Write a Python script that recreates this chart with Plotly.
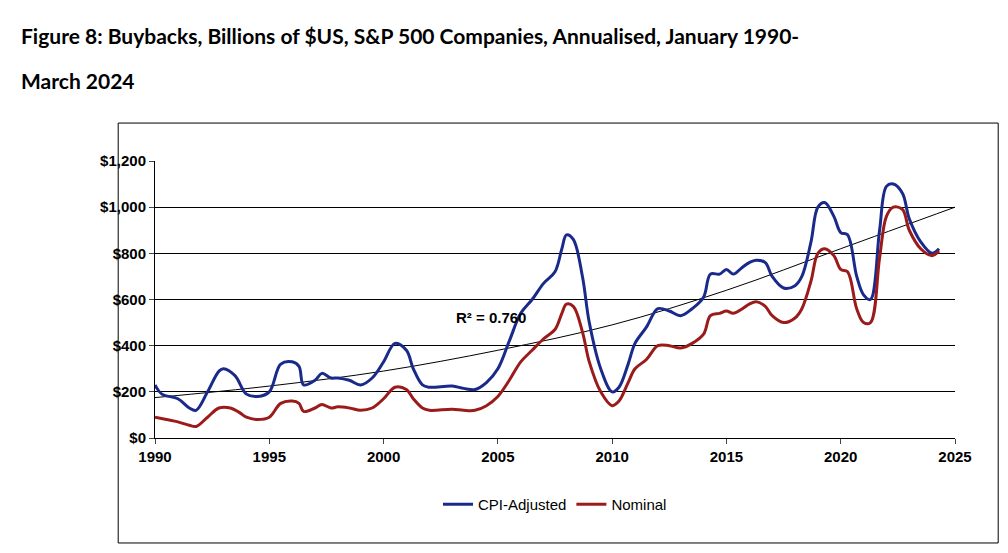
import plotly.graph_objects as go

years_cpi = [1990,1990.3,1991,1991.5,1991.8,1992.3,1992.8,1993,1993.5,1994,1994.5,1995,1995.5,1996,1996.3,1996.5,1997,1997.3,1997.7,1998,1998.5,1999,1999.5,2000,2000.5,2001,2001.3,2001.7,2002,2003,2003.5,2004,2004.5,2005,2005.5,2006,2006.5,2007,2007.5,2007.8,2008,2008.3,2008.7,2009,2009.5,2010,2010.3,2010.7,2011,2011.5,2012,2012.5,2013,2013.5,2014,2014.3,2014.7,2015,2015.3,2015.7,2016,2016.3,2016.7,2017,2017.5,2018,2018.3,2018.7,2019,2019.3,2019.7,2020,2020.3,2020.7,2021,2021.3,2021.7,2022,2022.3,2022.7,2023,2023.5,2024,2024.3]
cpi_adjusted = [230,190,170,130,120,200,290,300,270,190,180,200,320,330,310,230,250,280,260,260,250,230,260,330,410,380,300,230,220,225,215,210,240,300,420,540,600,670,720,820,880,860,700,500,300,200,220,320,410,480,560,550,530,560,610,710,710,730,710,740,760,770,760,700,650,660,700,850,1000,1020,960,890,880,700,620,600,900,1090,1100,1060,950,850,800,820]
years_nom = [1990,1990.5,1991,1991.5,1991.8,1992.3,1992.8,1993.3,1993.7,1994,1994.5,1995,1995.5,1996,1996.3,1996.5,1997,1997.3,1997.7,1998,1998.5,1999,1999.5,2000,2000.5,2001,2001.3,2001.7,2002,2003,2003.5,2004,2004.5,2005,2005.5,2006,2006.5,2007,2007.5,2007.8,2008,2008.3,2008.7,2009,2009.5,2010,2010.3,2010.7,2011,2011.5,2012,2012.5,2013,2013.5,2014,2014.3,2014.7,2015,2015.3,2015.7,2016,2016.3,2016.7,2017,2017.5,2018,2018.3,2018.7,2019,2019.3,2019.7,2020,2020.3,2020.7,2021,2021.3,2021.7,2022,2022.3,2022.7,2023,2023.5,2024,2024.3]
nominal = [90,80,70,55,50,90,130,130,110,90,80,90,150,160,150,115,130,145,130,135,130,120,130,170,220,210,170,130,120,125,120,120,140,180,250,330,380,430,470,540,580,570,460,330,200,140,160,240,300,340,400,400,390,410,450,530,540,550,540,560,580,590,570,530,500,520,560,680,800,820,790,730,720,560,500,500,780,960,1000,990,900,820,790,810]
trend_years = [1990,1995,2000,2005,2010,2015,2020,2025]
trend_values = [175,225,290,380,490,640,820,1000]
x_ticks = [1990,1995,2000,2005,2010,2015,2020,2025]
y_ticks = [0,200,400,600,800,1000,1200]
y_labels = ["$0","$200","$400","$600","$800","$1,000","$1,200"]

fig = go.Figure()
fig.add_trace(go.Scatter(x=trend_years, y=trend_values, mode="lines", line=dict(color="black", width=1, shape="spline"), showlegend=False))
fig.add_trace(go.Scatter(x=years_cpi, y=cpi_adjusted, mode="lines", name="CPI-Adjusted", line=dict(color="#1a2a8a", width=3, shape="spline")))
fig.add_trace(go.Scatter(x=years_nom, y=nominal, mode="lines", name="Nominal", line=dict(color="#9b1b1b", width=3, shape="spline")))

fig.add_annotation(x=2004.7, y=520, text="<b>R² = 0.760</b>", showarrow=False, font=dict(size=15, color="black"))
fig.add_annotation(xref="paper", yref="paper", x=-0.17, y=(430-27)/277, xanchor="left", yanchor="middle", showarrow=False,
                   text="<b>Figure 8: Buybacks, Billions of $US, S&P 500 Companies, Annualised, January 1990-</b>",
                   font=dict(size=21, family="Lato, Liberation Sans"))
fig.add_annotation(xref="paper", yref="paper", x=-0.17, y=(430-72)/277, xanchor="left", yanchor="middle", showarrow=False,
                   text="<b>March 2024</b>", font=dict(size=21, family="Lato, Liberation Sans"))

fig.update_layout(
    width=1008, height=553, paper_bgcolor="white", plot_bgcolor="white",
    margin=dict(l=147, r=61, t=153, b=123, autoexpand=False),
    font=dict(family="Liberation Sans", color="black"),
    xaxis=dict(range=[1990, 2025], tickvals=x_ticks, ticktext=["<b>%d</b>" % v for v in x_ticks], ticks="outside", ticklen=5,
               showline=True, linecolor="black", showgrid=False, tickfont=dict(size=15), zeroline=False, automargin=False),
    yaxis=dict(range=[0, 1200], tickvals=y_ticks, ticktext=["<b>%s</b>" % t for t in y_labels],
               showgrid=True, gridcolor="black", gridwidth=1, showline=True, linecolor="black", ticks="outside", ticklen=5,
               tickfont=dict(size=15), zeroline=False, automargin=False),
    legend=dict(orientation="h", x=0.5, xanchor="center", y=-0.24, yanchor="middle", font=dict(size=15)),
)
fig.add_shape(type="rect", xref="paper", yref="paper", x0=-0.046, x1=1.054, y0=-0.379, y1=1.137, line=dict(color="black", width=1))
fig.write_html("out.html")
